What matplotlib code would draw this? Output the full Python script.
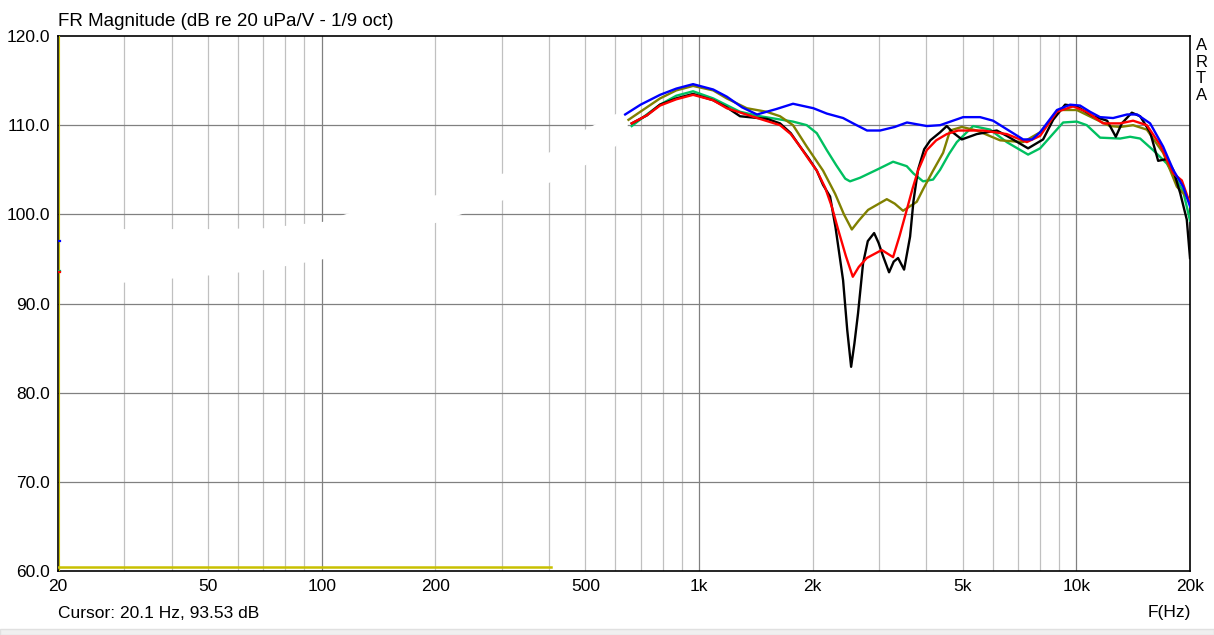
import matplotlib
matplotlib.use("Agg")
import matplotlib.pyplot as plt
from matplotlib.patches import Rectangle

plt.rcParams['font.family'] = ['Liberation Sans', 'DejaVu Sans']

# === measured curves (Hz, dB) ===
blue_f = [637, 700, 788, 870, 964, 1090, 1184, 1300, 1424, 1600, 1774, 2009, 2180, 2408, 2560, 2787,
          3018, 3300, 3556, 4016, 4353, 5010, 5556, 6014, 7225, 7630, 8012, 8880, 9622, 10226, 10870,
          11554, 12510, 13626, 14484, 15682, 16976, 18046, 19180, 20000]
blue_db = [111.2, 112.3, 113.4, 114.1, 114.6, 114.0, 113.2, 112.0, 111.2, 111.8, 112.4, 111.9, 111.3,
           110.8, 110.2, 109.4, 109.4, 109.8, 110.3, 109.9, 110.0, 110.9, 110.9, 110.5, 108.4, 108.4,
           109.2, 111.7, 112.3, 112.2, 111.5, 110.9, 110.8, 111.2, 111.2, 110.2, 107.6, 105.0, 103.1,
           100.9]

black_f = [663, 727, 788, 870, 964, 1089, 1184, 1284, 1514, 1639, 1750, 1852, 1950, 2051, 2131, 2224,
           2300, 2408, 2470, 2529, 2580, 2638, 2720, 2800, 2910, 2990, 3074, 3188, 3280, 3368, 3494,
           3624, 3700, 3804, 3950, 4100, 4353, 4534, 4700, 4970, 5444, 6152, 6538, 7446, 8160, 8675,
           9334, 10030, 11070, 12060, 12718, 13194, 14022, 14752, 15682, 16466, 17364, 18046, 18834,
           19612, 20000]
black_db = [110.2, 111.1, 112.3, 113.0, 113.5, 112.8, 112.0, 111.0, 110.7, 110.2, 109.1, 107.6, 106.3,
            104.9, 103.3, 102.0, 98.5, 92.6, 87.0, 82.9, 85.5, 88.9, 94.5, 97.0, 97.9, 96.8, 95.3,
            93.5, 94.7, 95.1, 93.8, 97.5, 101.5, 105.0, 107.3, 108.3, 109.2, 109.9, 109.2, 108.4,
            109.0, 109.4, 108.8, 107.4, 108.4, 110.6, 112.3, 112.1, 111.0, 110.5, 108.7, 110.2, 111.4,
            111.0, 109.2, 106.0, 106.2, 105.0, 102.4, 99.4, 95.1]

red_f = [663, 727, 788, 870, 964, 1089, 1184, 1451, 1639, 1750, 1852, 1950, 2051, 2158, 2250, 2336,
         2450, 2555, 2650, 2782, 3049, 3267, 3400, 3551, 3680, 3804, 4012, 4250, 4534, 4859, 5658,
         6538, 7388, 8012, 8872, 9800, 10652, 11768, 13058, 14134, 15368, 16666, 18046, 19030, 20000]
red_db = [110.2, 111.1, 112.2, 112.9, 113.4, 112.8, 111.9, 110.7, 110.0, 109.0, 107.6, 106.2, 104.9,
          103.0, 100.8, 98.3, 95.3, 93.0, 94.1, 95.1, 96.0, 95.2, 97.6, 100.5, 102.9, 104.9, 107.2,
          108.3, 109.0, 109.4, 109.4, 109.0, 108.1, 108.8, 111.5, 112.1, 111.5, 110.2, 110.2, 110.5,
          110.0, 107.8, 104.6, 103.8, 101.2]

olive_f = [650, 727, 788, 870, 964, 1090, 1184, 1338, 1511, 1639, 1774, 1929, 2131, 2294, 2420, 2540,
           2650, 2805, 3144, 3300, 3472, 3774, 3922, 4170, 4433, 4626, 4970, 5444, 6278, 7225, 8012,
           9052, 10024, 11324, 12282, 13058, 14134, 15368, 16976, 18458, 20000]
olive_db = [110.6, 112.0, 113.0, 113.9, 114.4, 113.9, 113.0, 111.9, 111.5, 111.0, 110.0, 107.6, 104.9,
            102.3, 100.0, 98.3, 99.3, 100.5, 101.7, 101.2, 100.4, 101.4, 102.8, 104.9, 106.9, 109.4,
            109.8, 109.4, 108.3, 108.1, 109.2, 111.7, 111.7, 110.6, 109.9, 109.8, 110.0, 109.5, 106.9,
            103.1, 101.6]

green_f = [663, 727, 788, 870, 964, 1090, 1284, 1451, 1774, 1929, 2051, 2180, 2310, 2440, 2512, 2670,
           2958, 3267, 3551, 3696, 3922, 4170, 4353, 4600, 4820, 5323, 5906, 6538, 7446, 8012, 9220,
           10024, 10652, 11554, 13058, 13878, 14752, 15970, 17364, 18458, 19180, 20000]
green_db = [109.9, 111.2, 112.3, 113.3, 113.8, 113.0, 111.5, 111.0, 110.4, 110.0, 109.1, 107.2, 105.5,
            104.0, 103.7, 104.1, 105.0, 105.9, 105.4, 104.6, 103.7, 103.9, 105.0, 106.8, 108.1, 109.9,
            109.5, 108.1, 106.7, 107.4, 110.3, 110.4, 110.0, 108.6, 108.5, 108.7, 108.5, 107.2, 105.7,
            103.8, 102.6, 99.3]

# blanked-out low frequency region (traces hidden in white)
mask_f = [20, 30, 50, 70, 100, 120, 150, 200, 300, 400, 500, 600, 645]
mask_top = [98.6, 98.4, 98.4, 98.5, 99.2, 100.3, 100.9, 102.2, 104.6, 107.0, 109.6, 111.3, 112.2]
mask_bot = [92.2, 92.4, 93.2, 93.8, 95.0, 96.0, 97.2, 99.1, 101.6, 103.6, 105.6, 107.7, 109.2]

# traces visible at the 20 Hz edge
stub_f = [20, 20.25]
stub_blue = [97.0, 97.0]
stub_green = [93.7, 93.7]
stub_red = [93.5, 93.5]

# yellow trace near the floor, cursor position
yellow_f = [20, 405]
yellow_db = [60.4, 60.4]
cursor_f = 20.1

xticks = [20, 50, 100, 200, 500, 1000, 2000, 5000, 10000, 20000]
xlabels = ["20", "50", "100", "200", "500", "1k", "2k", "5k", "10k", "20k"]
yticks = [60, 70, 80, 90, 100, 110, 120]

fig = plt.figure(figsize=(12.14, 6.35), dpi=100)
ax = fig.add_axes([58 / 1214, 1 - 571 / 635, (1190 - 58) / 1214, (571 - 36) / 635])
ax.set_xscale('log')
ax.set_xlim(20, 20000)
ax.set_ylim(60, 120)

# grid
minor = [m * d for d in (10, 100, 1000) for m in range(2, 10)]
for f in minor:
    if 20 < f < 20000:
        ax.axvline(f, color='#c0c0c0', lw=0.9, zorder=1)
for f in (100, 1000, 10000):
    ax.axvline(f, color='#808080', lw=0.9, zorder=1)
for y in yticks[1:-1]:
    ax.axhline(y, color='#808080', lw=0.9, zorder=1)

ax.fill_between(mask_f, mask_bot, mask_top, color='white', lw=0, zorder=2)

ax.plot(yellow_f, yellow_db, color='#c8c000', lw=1.8, zorder=3)
ax.axvline(cursor_f, color='#c8c000', lw=0.8, zorder=3)

ax.plot(stub_f, stub_blue, color='#0000ff', lw=1.6, zorder=4)
ax.plot(stub_f, stub_green, color='#00c060', lw=1.6, zorder=4)
ax.plot(stub_f, stub_red, color='#ff0000', lw=1.6, zorder=4)

ax.plot(green_f, green_db, color='#00c060', lw=1.7, zorder=4)
ax.plot(olive_f, olive_db, color='#808000', lw=1.7, zorder=4)
ax.plot(black_f, black_db, color='#000000', lw=1.7, zorder=5)
ax.plot(red_f, red_db, color='#ff0000', lw=1.7, zorder=6)
ax.plot(blue_f, blue_db, color='#0000ff', lw=1.7, zorder=7)

ax.set_xticks(xticks)
ax.set_xticklabels(xlabels)
ax.xaxis.set_minor_locator(matplotlib.ticker.NullLocator())
ax.set_yticks(yticks)
ax.set_yticklabels([f"{v:.1f}" for v in yticks])
ax.tick_params(length=0, labelsize=12.5, pad=6)
for s in ax.spines.values():
    s.set_color('black')
    s.set_linewidth(1.2)

fig.text(58 / 1214, 1 - 22 / 635, "FR Magnitude (dB re 20 uPa/V - 1/9 oct)",
         fontsize=13.5, ha='left', va='center')
fig.text(58 / 1214, 1 - 613 / 635, "Cursor: 20.1 Hz, 93.53 dB", fontsize=12.5, ha='left', va='center')
fig.text(1191 / 1214, 1 - 613 / 635, "F(Hz)", fontsize=12.5, ha='right', va='center')
for i, ch in enumerate("ARTA"):
    fig.text(1196 / 1214, 1 - (45.5 + 16.7 * i) / 635, ch, fontsize=12, ha='left', va='center')

# status bar strip
fig.add_artist(Rectangle((0, 0), 1, 6 / 635, transform=fig.transFigure,
                         facecolor='#f0f0f0', edgecolor='#e0e0e0', lw=1))

fig.savefig("out.png", dpi=100)
